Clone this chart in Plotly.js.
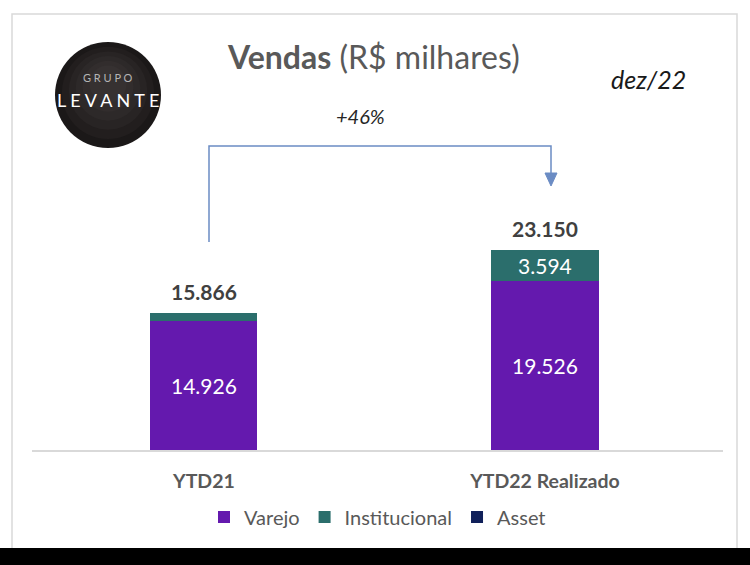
<!DOCTYPE html>
<html>
<head>
<meta charset="utf-8">
<script src="https://cdn.plot.ly/plotly-3.0.1.min.js"></script>
<style>html,body{margin:0;padding:0;background:#fff;}#chart{width:750px;height:565px;}</style>
</head>
<body>
<div id="chart"></div>
<script>
// ---- data ----
const categories = ['YTD21', 'YTD22 Realizado'];
const varejo = [14926, 19526];
const institucional = [940, 3594];
const asset = [0, 30];
const seriesNames = ['Varejo', 'Institucional', 'Asset'];
const growthLabel = '+46%';
const titleBold = 'Vendas';
const titleRest = ' (R$ milhares)';
const periodLabel = 'dez/22';

// ---- styling ----
const FONT = 'Lato, "Open Sans", sans-serif';
const colors = ['#6419AE', '#2B6E6C', '#10205A'];
const W = 750, H = 565;
const plotL = 32, plotR = 723, plotT = 139, plotB = 450;
const px = x => (x - plotL) / (plotR - plotL);
const py = y => (plotB - y) / (plotB - plotT);

const totals = categories.map((c, i) => varejo[i] + institucional[i] + asset[i]);
const fmt = n => String(Math.round(n)).replace(/\B(?=(\d{3})+(?!\d))/g, '.');

const barWidth = 0.314;
const mk = (name, vals, color) => ({
  type: 'bar', name: name, x: categories, y: vals, width: barWidth,
  marker: {color: color, line: {width: 0}},
  texttemplate: '%{y:,.0f}', textposition: 'inside', insidetextanchor: 'middle',
  insidetextfont: {family: FONT, size: 21, color: '#ffffff'},
  hoverinfo: 'skip'
});
const data = [
  mk(seriesNames[0], varejo, colors[0]),
  mk(seriesNames[1], institucional, colors[1]),
  mk(seriesNames[2], asset, colors[2])
];

const annotations = [];
categories.forEach((c, i) => {
  annotations.push({x: c, y: totals[i], xref: 'x', yref: 'y', text: '<b>' + fmt(totals[i]) + '</b>',
    showarrow: false, yanchor: 'bottom', yshift: 7, font: {family: FONT, size: 21, color: '#404040'}});
});
annotations.push({x: px(373), y: py(57), xref: 'paper', yref: 'paper', text: '<b>' + titleBold + '</b>' + titleRest,
  showarrow: false, xanchor: 'center', yanchor: 'middle', font: {family: FONT, size: 32, color: '#595959'}});
annotations.push({x: px(648), y: py(79), xref: 'paper', yref: 'paper', text: '<i>' + periodLabel + '</i>',
  showarrow: false, xanchor: 'center', yanchor: 'middle', font: {family: FONT, size: 25, color: '#1a1a1a'}});
annotations.push({x: px(360), y: py(116), xref: 'paper', yref: 'paper', text: '<i>' + growthLabel + '</i>',
  showarrow: false, xanchor: 'center', yanchor: 'middle', font: {family: FONT, size: 20, color: '#262626'}});
// logo text
annotations.push({x: px(108), y: py(78), xref: 'paper', yref: 'paper', text: 'G R U P O',
  showarrow: false, xanchor: 'center', yanchor: 'middle', font: {family: FONT, size: 11, color: '#b5b5b5'}});
annotations.push({x: px(108), y: py(100), xref: 'paper', yref: 'paper', text: 'L E V A N T E',
  showarrow: false, xanchor: 'center', yanchor: 'middle', font: {family: FONT, size: 18, color: '#ffffff'}});

const shapes = [];
// outer frame
shapes.push({type: 'rect', xref: 'paper', yref: 'paper', x0: px(12), x1: px(737), y0: py(14), y1: py(549),
  line: {color: '#d9d9d9', width: 1.5}, fillcolor: 'rgba(0,0,0,0)', layer: 'below'});
// black band
shapes.push({type: 'rect', xref: 'paper', yref: 'paper', x0: px(-5), x1: px(755), y0: py(548), y1: py(570),
  line: {width: 0}, fillcolor: '#000000'});
// logo circle with soft radial shading
const cx = 108, cy = 95, r = 53;
const logoFills = ['#1b1818', '#221e1e', '#282424', '#2d2929', '#322d2d', '#363131'];
logoFills.forEach((f, k) => {
  const rr = r * (1 - k * 0.13);
  const oy = k * 2.2;
  shapes.push({type: 'circle', xref: 'paper', yref: 'paper', x0: px(cx - rr), x1: px(cx + rr),
    y0: py(cy - oy + rr), y1: py(cy - oy - rr), line: {width: 0}, fillcolor: f, layer: 'below'});
});
// growth arrow
const arrowColor = '#6b8cc4';
shapes.push({type: 'path', xref: 'paper', yref: 'paper',
  path: 'M' + px(209) + ',' + py(242) + ' L' + px(209) + ',' + py(146) + ' L' + px(551) + ',' + py(146) + ' L' + px(551) + ',' + py(174),
  line: {color: arrowColor, width: 1.5}});
shapes.push({type: 'path', xref: 'paper', yref: 'paper',
  path: 'M' + px(545) + ',' + py(173) + ' L' + px(557) + ',' + py(173) + ' L' + px(551) + ',' + py(186) + ' Z',
  line: {color: arrowColor, width: 1}, fillcolor: arrowColor});

const layout = {
  width: W, height: H,
  margin: {l: plotL, r: W - plotR, t: plotT, b: H - plotB, pad: 0},
  paper_bgcolor: '#ffffff', plot_bgcolor: '#ffffff',
  barmode: 'stack',
  separators: ',.',
  uniformtext: {mode: 'hide', minsize: 19},
  showlegend: true,
  legend: {orientation: 'h', x: 0.5, xanchor: 'center', y: py(517), yanchor: 'middle',
    font: {family: FONT, size: 20, color: '#595959'}, traceorder: 'normal', itemclick: false},
  xaxis: {type: 'category', range: [-0.504, 1.522], showgrid: false, zeroline: false,
    showline: true, linecolor: '#d9d9d9', linewidth: 1.5, ticks: '', ticklabelstandoff: 13,
    tickfont: {family: FONT, size: 19.5, color: '#595959', weight: 'bold'}, fixedrange: true},
  yaxis: {range: [0, (plotB - plotT) / 0.00864], visible: false, showgrid: false, zeroline: false, fixedrange: true},
  annotations: annotations,
  shapes: shapes,
  font: {family: FONT}
};

Plotly.newPlot('chart', data, layout, {displayModeBar: false, staticPlot: true});
</script>
</body>
</html>
